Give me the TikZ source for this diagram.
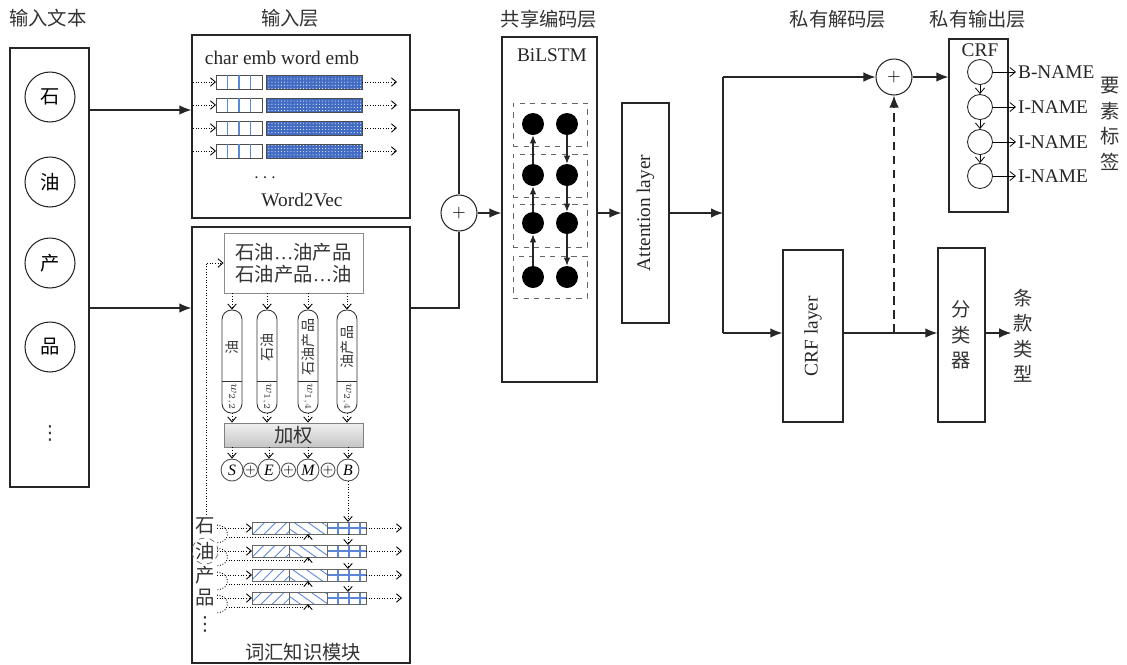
\documentclass[tikz,border=0pt]{standalone}
\usepackage{fontspec}
\setmainfont{Liberation Serif}
\newfontfamily\cjk{Noto Sans CJK SC}
\newfontfamily\symb{DejaVu Sans}
\usetikzlibrary{positioning}
\usetikzlibrary{calc}
\usetikzlibrary{arrows.meta}
\usetikzlibrary{fit}
\usetikzlibrary{patterns.meta}
\definecolor{embblue}{RGB}{66,108,196}
\definecolor{hatchblue}{RGB}{92,134,214}

\begin{document}
\begin{tikzpicture}[x=0.02cm, y=-0.02cm, >=Latex,
    txt/.style={font=\fontsize{11}{13}\selectfont, text=black!85},
    zh/.style={font=\cjk\fontsize{11}{13}\selectfont, text=black!80},
    zhcol/.style={font=\cjk\fontsize{11}{14.5}\selectfont, text=black!80, align=center},
    vdot/.style={font=\symb\fontsize{11}{13}\selectfont, text=black!80},
    box/.style={draw=black!85, line width=0.7pt, inner sep=0pt},
    arr/.style={-{Latex[length=2.4mm,width=1.9mm]}, line width=0.7pt, draw=black!85},
    smallarr/.style={-{Latex[length=1.6mm,width=1.3mm]}, line width=0.6pt, draw=black!85},
    plain/.style={line width=0.7pt, draw=black!85},
    dotarr/.style={densely dotted, line width=0.5pt, -{Straight Barb[length=1mm,width=1.7mm]}},
    thinarr/.style={line width=0.45pt, -{Straight Barb[length=1.1mm,width=1.8mm]}},
    sumc/.style={circle, draw=black!85, line width=0.6pt, minimum size=0.72cm, inner sep=0pt},
    charc/.style={circle, draw=black!85, line width=0.6pt, minimum size=1cm, inner sep=0pt, font=\cjk\fontsize{11}{13}\selectfont},
    tagc/.style={circle, draw=black!70, line width=0.5pt, minimum size=0.44cm, inner sep=0pt, font=\fontsize{9}{9}\selectfont\itshape},
    plusc/.style={circle, draw=black!70, line width=0.5pt, minimum size=0.28cm, inner sep=0pt, font=\fontsize{7}{7}\selectfont},
    cell/.style={circle, fill=black, minimum size=0.44cm, inner sep=0pt},
    crfc/.style={circle, draw=black!85, line width=0.5pt, minimum size=0.5cm, inner sep=0pt},
    capsule/.style={draw=black!80, line width=0.5pt, rounded corners=0.19cm, inner sep=0pt},
    cellbox/.style={draw=black!60, dashed, line width=0.5pt, inner sep=0pt}]
    \useasboundingbox (0,0) rectangle (1127,664);

    % Titles
    \node[zh] (t-input) at (48,18) {输入文本};
    \node[zh] (t-embed) at (290,18) {输入层};
    \node[zh] (t-share) at (549,19) {共享编码层};
    \node[zh] (t-dec) at (838,19) {私有解码层};
    \node[zh] (t-out) at (978,19) {私有输出层};

    % Input text
    \node[box, fit={(10,48) (89,487)}] (inbox) {};
    \node[charc] (c1) at (50,97) {石};
    \node[charc] (c2) at (50,182) {油};
    \node[charc] (c3) at (50,263) {产};
    \node[charc] (c4) at (50,347) {品};
    \node[vdot] (cdots) at (50,433) {⋮};

    \coordinate (r1) at (0,110);
    \coordinate (r2) at (0,308);

    % Word2Vec block
    \node[box, fit={(192,35) (410,218)}] (w2v) {};
    \node[txt] (embhead) at (282,58) {char emb word emb};
    \foreach \y in {82,105,128,151} {
        \draw[dotarr] (193,\y) -- (216,\y);
        \draw[black!70, line width=0.5pt, fill=white] (216,\y-7) rectangle (262,\y+7);
        \foreach \x in {227.5,239,250.5}
            \draw[hatchblue, line width=0.6pt] (\x,\y-7) -- (\x,\y+7);
        \fill[embblue] (266,\y-7) rectangle (362,\y+7);
        \path[pattern={Dots[radius=0.3pt,distance=1.8pt]}, pattern color=white] (266,\y-7) rectangle (362,\y+7);
        \draw[black!70, line width=0.5pt] (266,\y-7) rectangle (362,\y+7);
        \draw[dotarr] (362,\y) -- (397,\y);
    }
    \node[txt] (embdots) at (265,178) {$\cdots$};
    \node[txt] (w2vlabel) at (302,200) {Word2Vec};

    \draw[arr] (inbox.east |- r1) -- (w2v.west |- r1);

    % Lexicon block
    \node[box, fit={(192,227) (410,663)}] (lex) {};
    \draw[arr] (inbox.east |- r2) -- (lex.west |- r2);
    \node[draw=black!45, line width=0.5pt, fit={(224,233) (363,293)}, inner sep=0pt] (cand) {};
    \node[zh, align=center, font=\cjk\fontsize{11}{12.5}\selectfont] at (cand.center) {石油{\rmfamily …}油产品\\石油产品{\rmfamily …}油};

    \node[capsule, fit={(222,310) (242,413)}] (cap1) {};
    \node[capsule, fit={(257,310) (277,413)}] (cap2) {};
    \node[capsule, fit={(298,310) (318,413)}] (cap3) {};
    \node[capsule, fit={(337,310) (357,413)}] (cap4) {};
    \coordinate (capdiv) at (0,381);
    \foreach \c/\x/\w/\s in {cap1/232/油/{2,2}, cap2/267/石油/{1,2}, cap3/308/石油产品/{1,4}, cap4/347/油产品/{2,4}} {
        \draw[black!80, line width=0.5pt] (\c.west |- capdiv) -- (\c.east |- capdiv);
        \node[rotate=90, font=\cjk\fontsize{8}{8}\selectfont, text=black!80, inner sep=0pt] at (\x,347) {\w};
        \node[rotate=-90, font=\fontsize{7}{7}\selectfont, text=black!80, inner sep=0pt] at (\x,397) {$w_{\s}$};
    }

    \node[draw=black!50, line width=0.5pt, top color=gray!12, bottom color=gray!45, fit={(224,423) (363,447)}, inner sep=0pt] (weight) {};
    \node[zh] at (weight.center) {加权};
    \foreach \c in {cap1,cap2,cap3,cap4} {
        \draw[dotarr] (cand.south -| \c) -- (\c.north);
        \draw[dotarr] (\c.south) -- (weight.north -| \c);
    }

    \node[tagc] (tS) at (232,470) {S};
    \node[tagc] (tE) at (269,470) {E};
    \node[tagc] (tM) at (308,470) {M};
    \node[tagc] (tB) at (348,470) {B};
    \node[plusc] (p1) at (250.5,470) {$+$};
    \node[plusc] (p2) at (288.5,470) {$+$};
    \node[plusc] (p3) at (328,470) {$+$};
    \foreach \t in {tS,tE,tM,tB}
        \draw[dotarr] (weight.south -| \t) -- (\t.north);

    % lexicon rows
    \foreach \y in {528,551,575,598} {
        \draw[dotarr] (217,\y) -- (252,\y);
        \path[pattern={Lines[angle=45,distance=4.5pt,line width=0.5pt]}, pattern color=hatchblue] (252,\y-6) rectangle (289,\y+6);
        \path[pattern={Lines[angle=-35,distance=4.5pt,line width=0.5pt]}, pattern color=hatchblue] (289,\y-6) rectangle (327,\y+6);
        \draw[black!60, line width=0.5pt] (252,\y-6) rectangle (289,\y+6);
        \draw[black!60, line width=0.5pt] (289,\y-6) rectangle (327,\y+6);
        \foreach \x in {338,349,360}
            \draw[hatchblue, line width=0.6pt] (\x,\y-6) -- (\x,\y+6);
        \draw[hatchblue, line width=0.6pt] (327,\y) -- (366,\y);
        \draw[black!60, line width=0.5pt] (327,\y-6) rectangle (366,\y+6);
        \draw[dotarr] (366,\y) -- (402,\y);
        \draw[densely dotted, line width=0.5pt] (217,\y-3) .. controls (231,\y-2) and (231,\y+14) .. (217,\y+15);
        \draw[dotarr] (226,\y+9) -| (308,\y+6);
    }
    \draw[dotarr] (tB.south) -- (348,522);
    \draw[dotarr] (348,534) -- (348,545);
    \draw[dotarr] (348,563) -- (348,569);
    \draw[dotarr] (348,586) -- (348,592);

    \node[zh] (l1) at (205,526) {石};
    \node[zh, circle, draw=black!60, dashed, line width=0.4pt, inner sep=0pt, minimum size=0.42cm] (l2) at (205,551) {油};
    \node[zh] (l3) at (205,575) {产};
    \node[zh] (l4) at (205,598) {品};
    \node[vdot] (ldots) at (205,624) {⋮};
    \draw[dotarr] (206,515) |- (cand.west);
    \node[zh] (lexlabel) at (303,652) {词汇知识模块};

    % Merge
    \node[sumc] (plus1) at (459,213) {$+$};
    \draw[plain] (w2v.east |- r1) -| (plus1);
    \draw[plain] (lex.east |- r2) -| (plus1);

    % Shared encoder
    \node[box, fit={(502,37) (597,382)}] (bilstm) {};
    \node[txt] (bilabel) at (552,55) {BiLSTM};
    \node[cellbox, fit={(513,103) (587,146)}] (g1) {};
    \node[cellbox, fit={(513,154) (587,197)}] (g2) {};
    \node[cellbox, fit={(513,204) (587,247)}] (g3) {};
    \node[cellbox, fit={(513,256) (587,298)}] (g4) {};
    \foreach \y [count=\i] in {124,175,223,277} {
        \node[cell] (f\i) at (533,\y) {};
        \node[cell] (b\i) at (567,\y) {};
    }
    \foreach \i/\j in {4/3,3/2,2/1}
        \draw[smallarr] (f\i) -- (f\j);
    \foreach \i/\j in {1/2,2/3,3/4}
        \draw[smallarr] (b\i) -- (b\j);
    \draw[arr] (plus1) -- (bilstm.west |- plus1);

    % Attention
    \node[box, fit={(622,103) (669,323)}] (att) {};
    \node[txt, rotate=90] at (att.center) {Attention layer};
    \draw[arr] (bilstm.east |- att) -- (att.west);

    % Private decoders
    \coordinate (split) at (723,213);
    \coordinate (cl) at (0,333);
    \node[sumc] (plus2) at (894,77) {$+$};
    \node[box, fit={(783,250) (843,422)}] (crf) {};
    \node[txt, rotate=90] at (crf.center) {CRF layer};
    \draw[arr] (att.east |- split) -- (split);
    \draw[plain] (split |- plus2) -- (split |- cl);
    \draw[arr] (split |- plus2) -- (plus2);
    \draw[arr] (split |- cl) -- (crf.west |- cl);

    \node[box, fit={(938,248) (985,422)}] (cls) {};
    \node[zhcol] at (cls.center) {分\\类\\器};
    \draw[arr] (crf.east |- cl) -- (cls.west |- cl);
    \draw[arr, dashed, dash pattern=on 5pt off 3pt] (plus2 |- cl) -- (plus2.south);
    \node[zhcol, inner sep=1pt] (ctype) at (1023,336) {条\\款\\类\\型};
    \draw[arr] (cls.east |- cl) -- (ctype.west |- cl);

    % Private output
    \node[box, fit={(949,39) (1008,212)}] (crfout) {};
    \node[txt] (crflabel) at (980,50) {CRF};
    \draw[arr] (plus2) -- (crfout.west |- plus2);
    \foreach \y/\lab [count=\i] in {72/B-NAME, 107/I-NAME, 142/I-NAME, 176/I-NAME} {
        \node[crfc] (o\i) at (980,\y) {};
        \node[txt, anchor=west, inner sep=1pt] (lab\i) at (1016,\y) {\lab};
        \draw[thinarr] (o\i) -- (lab\i.west);
    }
    \foreach \i/\j in {1/2,2/3,3/4}
        \draw[thinarr] (o\i) -- (o\j);
    \node[zhcol] (tags) at (1110,124) {要\\素\\标\\签};
\end{tikzpicture}
\end{document}
